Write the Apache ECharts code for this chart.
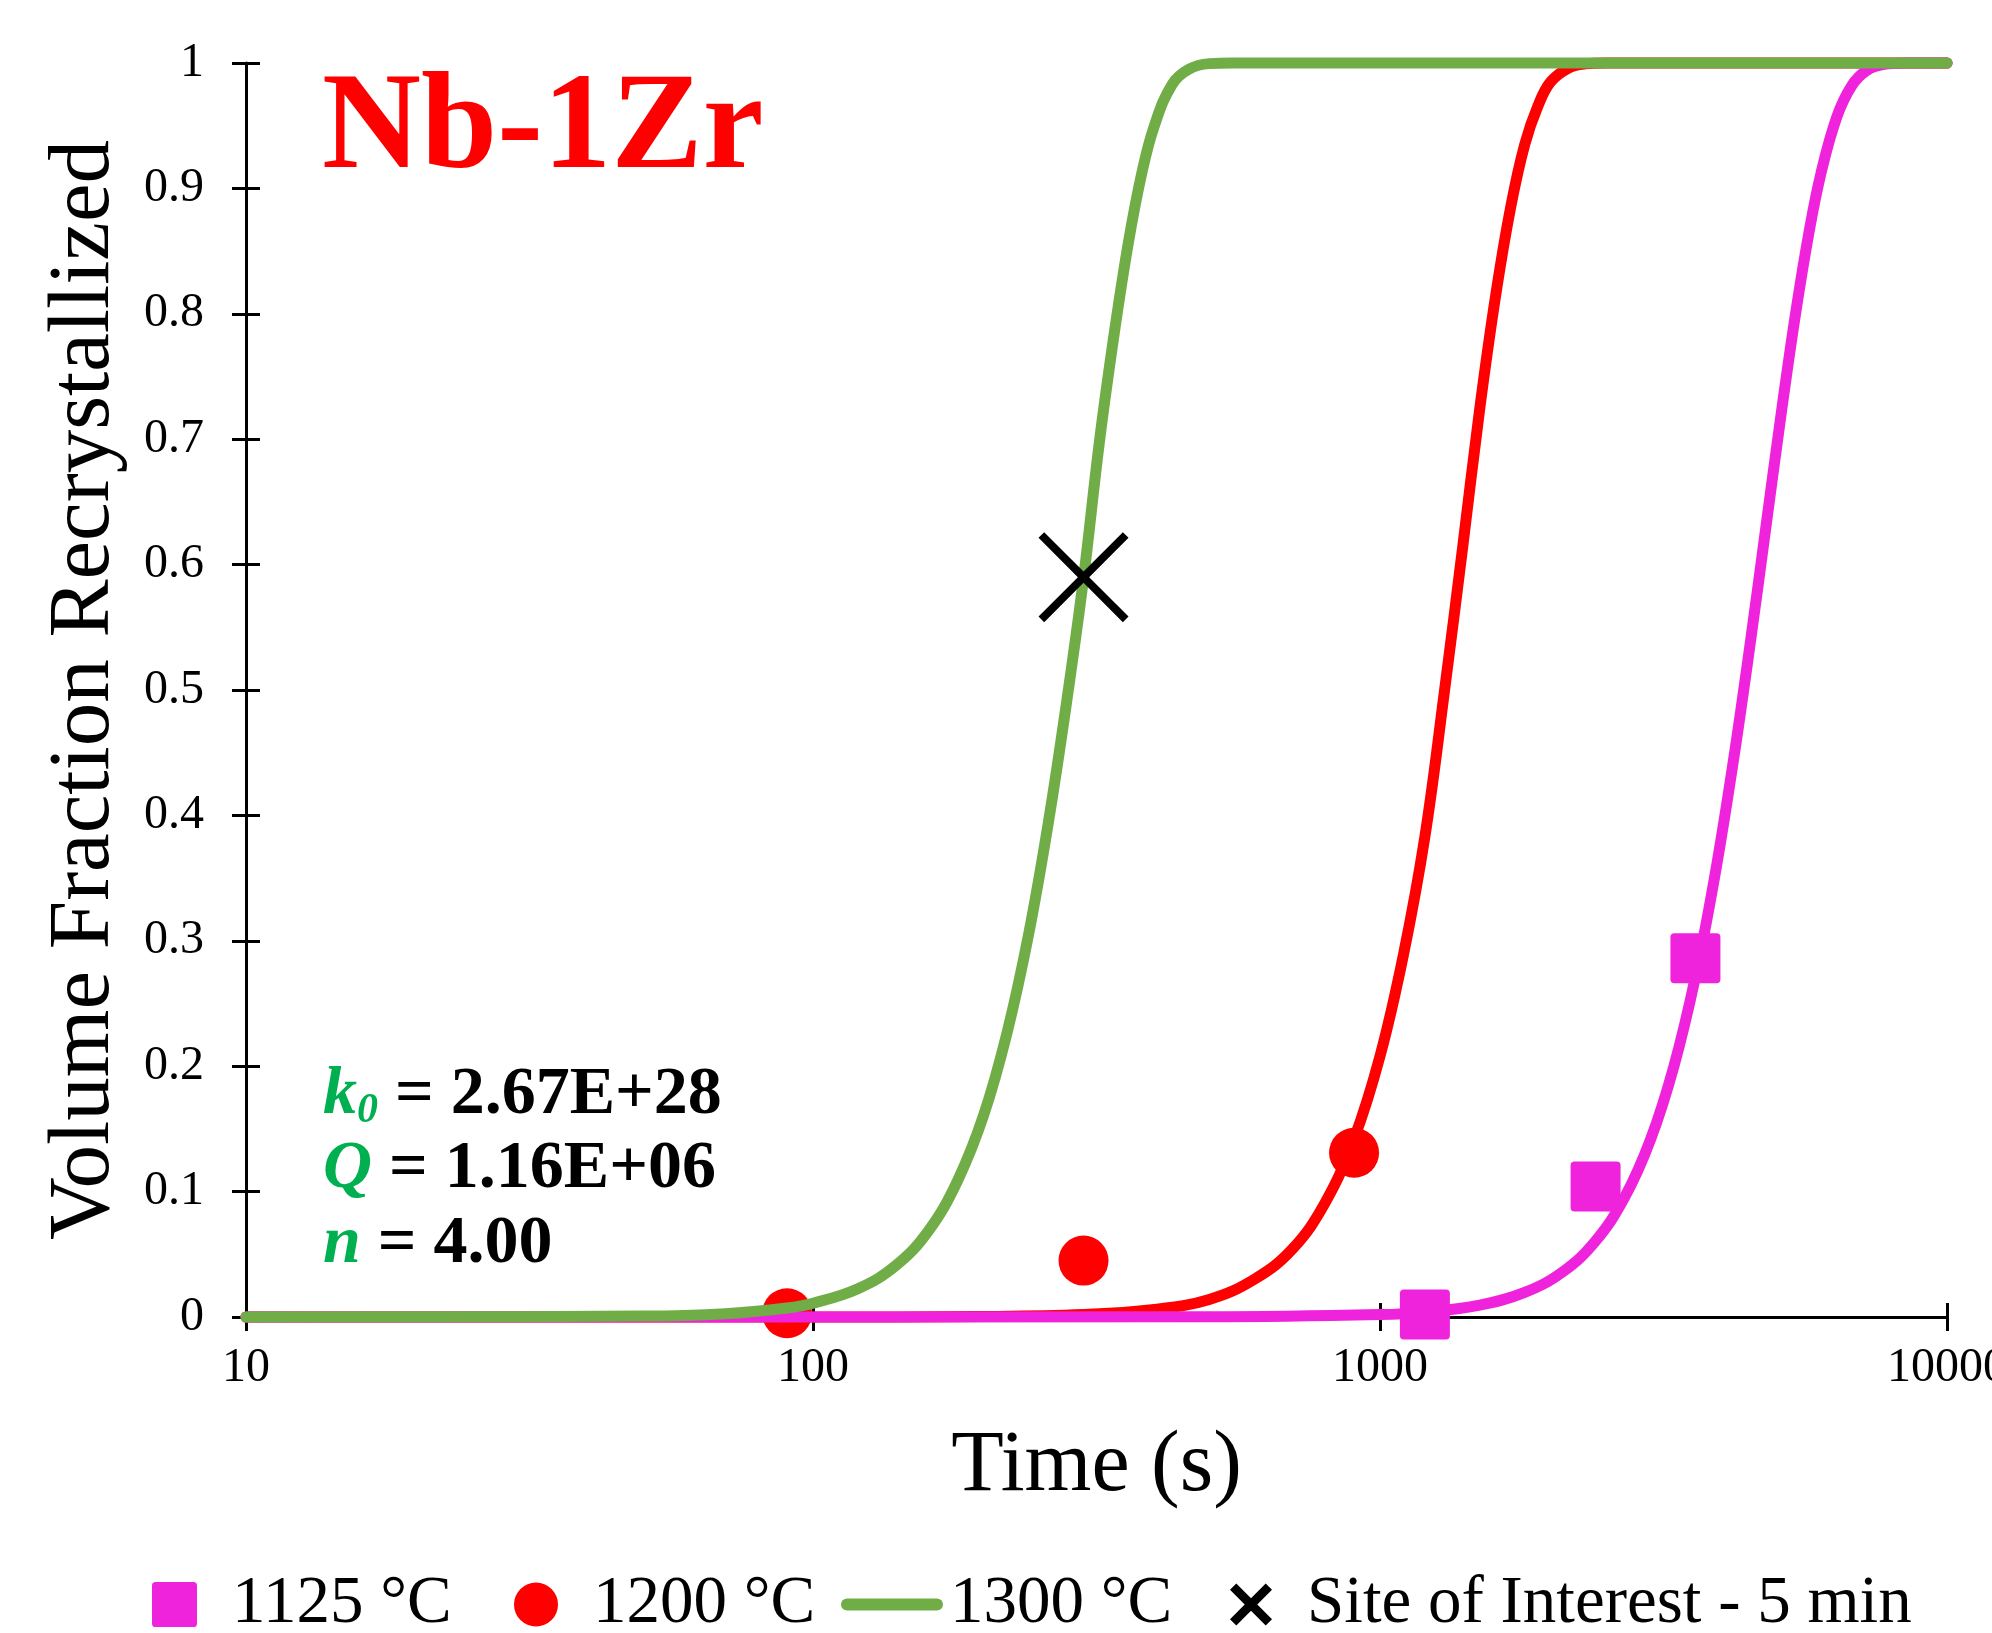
<!DOCTYPE html>
<html>
<head>
<meta charset="utf-8">
<script src="https://cdn.jsdelivr.net/npm/echarts@6/dist/echarts.min.js"></script>
<style>
html,body{margin:0;padding:0;background:#ffffff;}
#c{width:1992px;height:1633px;}
</style>
</head>
<body>
<div id="c"></div>
<script>
// ---- data ----
const timeTickLabels = ['10', '100', '1000', '10000'];
const fracTickLabels = ['0', '0.1', '0.2', '0.3', '0.4', '0.5', '0.6', '0.7', '0.8', '0.9', '1'];

// fitted curves (time in s, volume fraction recrystallized)
const t1300 = [10, 50, 70, 90, 100, 120, 140, 160, 180, 200, 220, 240, 260, 280, 300, 320, 340, 360, 380, 400, 430, 460, 500, 550, 10000];
const x1300 = [0, 0.0007, 0.0026, 0.0072, 0.011, 0.0225, 0.041, 0.069, 0.109, 0.161, 0.227, 0.305, 0.394, 0.490, 0.589, 0.698, 0.785, 0.857, 0.912, 0.950, 0.983, 0.995, 0.9995, 1, 1];

const t1200 = [10, 100, 200, 300, 400, 500, 600, 700, 800, 900, 1000, 1100, 1200, 1300, 1400, 1500, 1600, 1700, 1800, 1900, 2000, 2150, 2300, 2500, 10000];
const x1200 = [0, 0, 0.0004, 0.0019, 0.006, 0.014, 0.030, 0.054, 0.091, 0.142, 0.208, 0.289, 0.383, 0.500, 0.615, 0.725, 0.815, 0.885, 0.935, 0.966, 0.985, 0.996, 0.9993, 1, 1];

const t1125 = [10, 500, 1000, 1200, 1500, 1800, 2100, 2400, 2700, 3000, 3300, 3600, 3900, 4200, 4500, 4800, 5100, 5400, 5700, 6000, 6400, 6800, 7200, 7700, 8500, 10000];
const x1125 = [0, 0.0001, 0.0019, 0.0039, 0.0095, 0.0196, 0.036, 0.0606, 0.0953, 0.1415, 0.2002, 0.2712, 0.3532, 0.4436, 0.5381, 0.6321, 0.7204, 0.7985, 0.8631, 0.9129, 0.9576, 0.9822, 0.9937, 0.9987, 1, 1];

// measured points
const pts1200T = [90, 300, 900];
const pts1200X = [0.003, 0.045, 0.131];
const pts1125T = [1200, 2400, 3600];
const pts1125X = [0.002, 0.104, 0.286];
const siteT = [300];
const siteX = [0.59];

const seriesNames = ['1125 °C', '1200 °C', '1300 °C', 'Site of Interest - 5 min'];
const titleText = 'Nb-1Zr';
const paramNames = ['k', 'Q', 'n'];
const paramValues = ['2.67E+28', '1.16E+06', '4.00'];

// ---- helpers ----
const pairs = (xs, ys) => xs.map((x, i) => [x, ys[i]]);

const SERIF = 'Liberation Serif';
const C1125 = '#F023DC';
const C1200 = '#FF0000';
const C1300 = '#70AD47';
const PGREEN = '#00B050';

const xMark = 'path://M0,6.3L6.3,0L50,43.7L93.7,0L100,6.3L56.3,50L100,93.7L93.7,100L50,56.3L6.3,100L0,93.7L43.7,50Z';
const xMarkBold = 'path://M0,15L15,0L50,35L85,0L100,15L65,50L100,85L85,100L50,65L15,100L0,85L35,50Z';
const sqMark = 'path://M4,0H46A4,4 0 0 1 50,4V46A4,4 0 0 1 46,50H4A4,4 0 0 1 0,46V4A4,4 0 0 1 4,0Z';
const lineIcon = 'path://M6,0H96A6,6 0 0 1 96,12H6A6,6 0 0 1 6,0Z';

const axisBlack = { color: '#000000', width: 3 };
const LW = 11;

const legendText = { fontFamily: SERIF, fontSize: 67, lineHeight: 67, color: '#000000' };
function legendAt(left, name, icon, w, h, pad) {
  return {
    left: left, top: 1571, padding: 0, orient: 'horizontal',
    data: [{ name: name, icon: icon }],
    itemWidth: w, itemHeight: h, symbolKeepAspect: true,
    selectedMode: false,
    textStyle: Object.assign({ padding: [0, 0, 0, pad] }, legendText)
  };
}

const chart = echarts.init(document.getElementById('c'), null, { renderer: 'canvas' });

const option = {
  animation: false,
  backgroundColor: '#ffffff',
  title: {
    text: titleText,
    left: 322, top: 63, padding: 0,
    textStyle: { fontFamily: SERIF, fontSize: 137, fontWeight: 'bold', color: '#FF0000', lineHeight: 137 }
  },
  grid: { left: 246, right: 45, top: 63, bottom: 316, containLabel: false, outerBoundsMode: 'none' },
  legend: [
    legendAt(152, seriesNames[0], sqMark, 45, 45, 30),
    legendAt(514, seriesNames[1], 'circle', 44, 44, 30),
    legendAt(841, seriesNames[2], lineIcon, 102, 12, 2),
    legendAt(1230, seriesNames[3], xMarkBold, 42, 42, 30)
  ],
  xAxis: [
    {
      type: 'log', logBase: 10, min: 10, max: 10000, position: 'bottom',
      name: 'Time (s)', nameLocation: 'middle', nameGap: 107,
      nameTextStyle: { fontFamily: SERIF, fontSize: 86, color: '#000000' },
      axisLine: { show: true, lineStyle: axisBlack },
      axisTick: { show: true, inside: false, length: 14, lineStyle: axisBlack },
      axisLabel: {
        show: true, margin: 27, fontFamily: SERIF, fontSize: 48, color: '#000000',
        formatter: function (v) {
          const k = Math.round(Math.log10(v)) - 1;
          return timeTickLabels[k] !== undefined ? timeTickLabels[k] : '';
        }
      },
      splitLine: { show: false }, minorTick: { show: false }
    },
    {
      type: 'log', logBase: 10, min: 10, max: 10000, position: 'bottom',
      axisLine: { show: false },
      axisTick: { show: true, inside: true, length: 14, lineStyle: axisBlack },
      axisLabel: { show: false }, splitLine: { show: false }
    }
  ],
  yAxis: [
    {
      type: 'value', min: 0, max: 1, interval: 0.1, position: 'left',
      name: 'Volume Fraction Recrystallized', nameLocation: 'middle', nameGap: 117,
      nameTextStyle: { fontFamily: SERIF, fontSize: 87, color: '#000000' },
      axisLine: { show: true, lineStyle: axisBlack },
      axisTick: { show: true, inside: false, length: 14, lineStyle: axisBlack },
      axisLabel: {
        show: true, margin: 42, fontFamily: SERIF, fontSize: 48, color: '#000000',
        formatter: function (v) { return fracTickLabels[Math.round(v * 10)]; }
      },
      splitLine: { show: false }
    },
    {
      type: 'value', min: 0, max: 1, interval: 0.1, position: 'left',
      axisLine: { show: false },
      axisTick: { show: true, inside: true, length: 14, lineStyle: axisBlack },
      axisLabel: { show: false }, splitLine: { show: false }
    }
  ],
  graphic: [
    {
      type: 'text', left: 323, top: 1061, silent: true,
      style: {
        text: '{g|' + paramNames[0] + '}{gs|0}{b| = ' + paramValues[0] + '}\n' +
              '{g|' + paramNames[1] + '}{b| = ' + paramValues[1] + '}\n' +
              '{g|' + paramNames[2] + '}{b| = ' + paramValues[2] + '}',
        rich: {
          g: { fontFamily: SERIF, fontSize: 68, fontWeight: 'bold', fontStyle: 'italic', fill: PGREEN, lineHeight: 74.5 },
          gs: { fontFamily: SERIF, fontSize: 42, fontWeight: 'bold', fontStyle: 'italic', fill: PGREEN, lineHeight: 38, verticalAlign: 'bottom' },
          b: { fontFamily: SERIF, fontSize: 68, fontWeight: 'bold', fill: '#000000', lineHeight: 74.5 }
        }
      }
    }
  ],
  series: [
    {
      name: seriesNames[1], type: 'line', data: pairs(t1200, x1200),
      showSymbol: false, symbol: 'none', smooth: 0.4, clip: false,
      itemStyle: { color: C1200 },
      lineStyle: { color: C1200, width: LW, cap: 'round', join: 'round' },
      emphasis: { disabled: true }, silent: true, z: 2
    },
    {
      name: seriesNames[1], type: 'scatter', data: pairs(pts1200T, pts1200X),
      symbol: 'circle', symbolSize: 50, clip: false,
      itemStyle: { color: C1200, opacity: 1 }, emphasis: { disabled: true }, silent: true, z: 3
    },
    {
      name: seriesNames[0], type: 'line', data: pairs(t1125, x1125),
      showSymbol: false, symbol: 'none', smooth: 0.4, clip: false,
      itemStyle: { color: C1125 },
      lineStyle: { color: C1125, width: LW, cap: 'round', join: 'round' },
      emphasis: { disabled: true }, silent: true, z: 4
    },
    {
      name: seriesNames[0], type: 'scatter', data: pairs(pts1125T, pts1125X),
      symbol: sqMark, symbolSize: 50, clip: false,
      itemStyle: { color: C1125, opacity: 1 }, emphasis: { disabled: true }, silent: true, z: 5
    },
    {
      name: seriesNames[2], type: 'line', data: pairs(t1300, x1300),
      showSymbol: false, symbol: 'none', smooth: 0.4, clip: false,
      itemStyle: { color: C1300 },
      lineStyle: { color: C1300, width: LW, cap: 'round', join: 'round' },
      emphasis: { disabled: true }, silent: true, z: 6
    },
    {
      name: seriesNames[3], type: 'scatter', data: pairs(siteT, siteX),
      symbol: xMark, symbolSize: 90, clip: false,
      itemStyle: { color: '#000000', opacity: 1 }, emphasis: { disabled: true }, silent: true, z: 7
    }
  ]
};

chart.setOption(option);
</script>
</body>
</html>
